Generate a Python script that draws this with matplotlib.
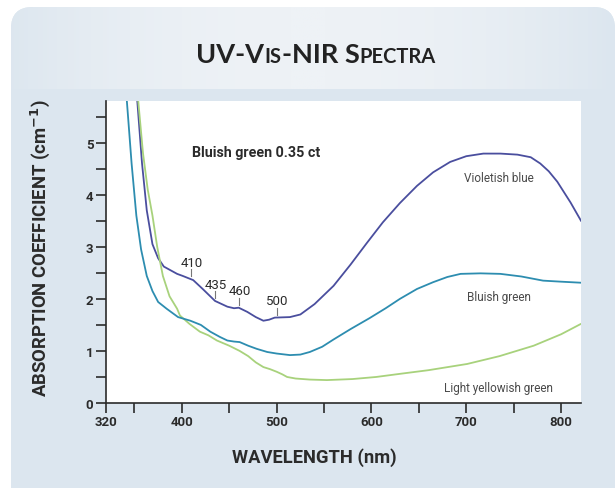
import matplotlib
matplotlib.use("Agg")
import matplotlib.pyplot as plt
from matplotlib.patches import FancyBboxPatch
import numpy as np

PURPLE = "#4a4e9e"
TEAL = "#2d8db0"
GREEN = "#a8d27c"
PANEL = "#dce6ef"
DARK = "#2b2b2b"
LABEL_GRAY = "#4a4a4a"

NARROW = ["Roboto", "DejaVu Sans"]

# spectra (wavelength nm, absorption coefficient cm-1)
violet_wl = [353, 358, 363, 369, 375, 381, 388, 395, 401, 412, 422, 435, 448, 455,
             460, 469, 478, 486, 492, 498, 514, 525, 540, 560, 578, 595, 612, 630,
             648, 665, 683, 700, 718, 736, 754, 768, 778, 787, 796, 810, 821]
violet_ab = [5.8, 4.6, 3.7, 3.05, 2.78, 2.62, 2.55, 2.48, 2.44, 2.36, 2.19, 1.96, 1.85, 1.82,
             1.83, 1.75, 1.65, 1.58, 1.6, 1.64, 1.65, 1.7, 1.9, 2.25, 2.66, 3.07, 3.47, 3.84,
             4.17, 4.43, 4.63, 4.74, 4.79, 4.79, 4.77, 4.72, 4.6, 4.45, 4.25, 3.85, 3.5]

bluish_wl = [342, 347, 352, 357, 363, 369, 375, 384, 396, 409, 420, 430, 440, 448,
             455, 461, 470, 479, 490, 500, 514, 525, 535, 548, 560, 578, 598, 615,
             630, 648, 665, 680, 694, 715, 736, 758, 781, 800, 821]
bluish_ab = [5.8, 4.6, 3.6, 2.95, 2.44, 2.15, 1.94, 1.81, 1.65, 1.58, 1.5, 1.37, 1.27, 1.2,
             1.18, 1.17, 1.1, 1.04, 0.98, 0.95, 0.92, 0.93, 0.98, 1.08, 1.22, 1.42, 1.63, 1.82,
             2.0, 2.19, 2.32, 2.42, 2.48, 2.49, 2.48, 2.43, 2.35, 2.33, 2.31]

yellow_wl = [354, 359, 364, 369, 374, 380, 387, 395, 398, 408, 419, 428, 437, 450,
             461, 470, 478, 486, 493, 500, 506, 511, 520, 535, 553, 580, 605, 630,
             660, 701, 735, 771, 800, 821]
yellow_ab = [5.8, 4.8, 4.1, 3.6, 3.0, 2.44, 2.05, 1.81, 1.68, 1.52, 1.37, 1.3, 1.2, 1.1,
             1.0, 0.9, 0.78, 0.69, 0.65, 0.6, 0.55, 0.5, 0.47, 0.45, 0.44, 0.46, 0.5, 0.56,
             0.63, 0.75, 0.9, 1.1, 1.32, 1.52]

peak_wl = [410, 435, 460, 500]
peak_ab = [2.38, 1.96, 1.83, 1.64]

fig = plt.figure(figsize=(6.16, 4.89), dpi=100)
fig.patch.set_facecolor("white")

# rounded background panel
panel = FancyBboxPatch((11 / 616, -0.05), 604 / 616, 0.05 + 481 / 489,
                       boxstyle="round,pad=0,rounding_size=0.035",
                       transform=fig.transFigure, facecolor=PANEL, edgecolor="none",
                       mutation_aspect=616 / 489, zorder=0)
fig.patches.append(panel)

# lighter gradient band behind the title
band_ax = fig.add_axes([0, 1 - 90 / 489, 1, 85 / 489], zorder=0.5)
band_ax.set_axis_off()
xx = np.linspace(-1, 1, 300)
grad = np.tile(1 - xx ** 2, (10, 1))
band_cmap = matplotlib.colors.LinearSegmentedColormap.from_list("band", [PANEL, "#eef2f6"])
band_ax.imshow(grad, aspect="auto", extent=[0, 1, 0, 1], cmap=band_cmap, vmin=0, vmax=1)
band_ax.set_xlim(0, 1)
band_ax.set_ylim(0, 1)
band_ax.images[0].set_clip_path(panel)

ax = fig.add_axes([106 / 616, 85 / 489, 475 / 616, 302 / 489], zorder=2)
ax.set_facecolor("white")

ax.plot(violet_wl, violet_ab, color=PURPLE, lw=1.3, solid_joinstyle="round")
ax.plot(yellow_wl, yellow_ab, color=GREEN, lw=1.3, solid_joinstyle="round")
ax.plot(bluish_wl, bluish_ab, color=TEAL, lw=1.3, solid_joinstyle="round")

ax.set_xlim(320, 821)
ax.set_ylim(0, 5.8)

for s in ["top", "right"]:
    ax.spines[s].set_visible(False)
for s in ["left", "bottom"]:
    ax.spines[s].set_color(DARK)
    ax.spines[s].set_linewidth(1.2)

ax.set_xticks([320, 400, 500, 600, 700, 800])
ax.set_xticks([350, 450, 550, 650, 750], minor=True)
ax.set_yticks([0, 1, 2, 3, 4, 5])
ax.set_yticks([0.5, 1.5, 2.5, 3.5, 4.5, 5.5], minor=True)
ax.tick_params(which="both", direction="out", length=7, width=1.2, color=DARK,
               labelsize=9.5, labelcolor=DARK, pad=2)
for lab in ax.get_xticklabels() + ax.get_yticklabels():
    lab.set_family(NARROW)
    lab.set_fontweight("bold")

ax.set_xlabel("WAVELENGTH (nm)", family=NARROW, fontweight="bold", fontsize=13.2,
              color=DARK)
ax.xaxis.set_label_coords((314 - 106) / 475, -(458 - 404) / 302, transform=ax.transAxes)
ax.xaxis.label.set_va("center")
ax.set_ylabel("ABSORPTION COEFFICIENT (cm$^{\\mathbf{-1}}$)", family=NARROW, fontweight="bold",
              fontsize=13.3, color=DARK)
ax.yaxis.set_label_coords(-(106 - 40) / 475, (404 - 248) / 302, transform=ax.transAxes)
ax.yaxis.label.set_va("center")

# peak markers on the violetish blue curve
for wl, ab in zip(peak_wl, peak_ab):
    ax.plot([wl, wl], [ab + 0.05, ab + 0.19], color="#777777", lw=0.8)
    ax.text(wl + 1, ab + 0.2, str(wl), ha="center", va="bottom", fontsize=9.5,
            color=DARK, family=NARROW)

ax.text((192 - 106) / 475, 0.83, "Bluish green 0.35 ct", transform=ax.transAxes,
        family=NARROW, fontweight="bold", fontsize=10.3, color=DARK, ha="left", va="center")
ax.text(734, 4.33, "Violetish blue", ha="center", va="center", fontsize=8.5, color=LABEL_GRAY,
        family=NARROW)
ax.text(734, 2.04, "Bluish green", ha="center", va="center", fontsize=8.5, color=LABEL_GRAY,
        family=NARROW)
ax.text(734, 0.29, "Light yellowish green", ha="center", va="center", fontsize=8.5,
        color=LABEL_GRAY, family=NARROW)

# title in small capitals
TITLE_PARTS = [("UV-V", 19.5), ("IS", 14.5), ("-NIR S", 19.5), ("PECTRA", 14.5)]
title_font = ["Lato", "DejaVu Sans"]
renderer = fig.canvas.get_renderer()
pieces = []
total = 0
for txt, fs in TITLE_PARTS:
    t = fig.text(0, 0, txt, fontsize=fs, family=title_font, fontweight="bold", color="#222222")
    w = t.get_window_extent(renderer).width
    pieces.append((t, w))
    total += w
x0 = 316 - total / 2
for t, w in pieces:
    t.set_position((x0 / 616, (489 - 63) / 489))
    t.set_va("baseline")
    x0 += w

fig.savefig("out.png", dpi=100, facecolor=fig.get_facecolor())
